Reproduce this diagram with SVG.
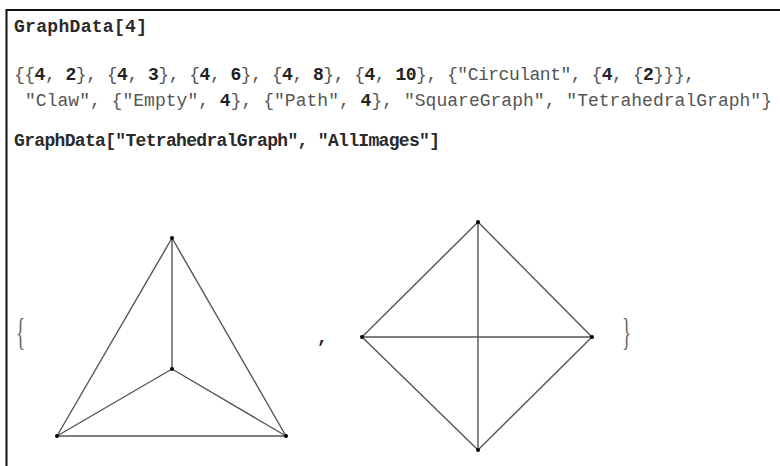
<svg xmlns="http://www.w3.org/2000/svg" width="780" height="466" viewBox="0 0 780 466">
<style>
.in{font-family:"Liberation Mono","DejaVu Sans Mono",monospace;font-size:18px;font-weight:bold;fill:#2a2a2a}
.out{font-family:"Liberation Mono","DejaVu Sans Mono",monospace;font-size:18px;fill:#555}
.out tspan.n{font-weight:bold;fill:#222}
.e{stroke:#555;stroke-width:1.4;fill:none}
.v{fill:#000}
.br{font-family:"Liberation Serif",serif;font-size:38px;fill:#666}
</style>
<rect width="780" height="466" fill="#fff"/>
<path d="M780 10H6.5V466" fill="none" stroke="#111" stroke-width="2"/>
<g id="text">
<text class="in" x="14" y="32" textLength="133" lengthAdjust="spacing">GraphData[4]</text>
<text class="out" x="14" y="80" textLength="681" lengthAdjust="spacing">{{<tspan class="n">4</tspan>, <tspan class="n">2</tspan>}, {<tspan class="n">4</tspan>, <tspan class="n">3</tspan>}, {<tspan class="n">4</tspan>, <tspan class="n">6</tspan>}, {<tspan class="n">4</tspan>, <tspan class="n">8</tspan>}, {<tspan class="n">4</tspan>, <tspan class="n">10</tspan>}, {"Circulant", {<tspan class="n">4</tspan>, {<tspan class="n">2</tspan>}}},</text>
<text class="out" x="25" y="106" textLength="747" lengthAdjust="spacing">"Claw", {"Empty", <tspan class="n">4</tspan>}, {"Path", <tspan class="n">4</tspan>}, "SquareGraph", "TetrahedralGraph"}</text>
<text class="in" x="14" y="146" textLength="426" lengthAdjust="spacing">GraphData["TetrahedralGraph", "AllImages"]</text>
<text class="br" x="16" y="345" transform="translate(16 0) scale(0.5 1) translate(-16 0)">{</text>
<text class="out" x="317" y="343" style="font-weight:bold;fill:#222">,</text>
<text class="br" x="622" y="345" transform="translate(622 0) scale(0.5 1) translate(-622 0)">}</text>
</g>
<g id="connectors">
<line class="e" x1="172" y1="238" x2="172" y2="369"/>
<line class="e" x1="172" y1="238" x2="57" y2="436"/>
<line class="e" x1="172" y1="238" x2="286" y2="436"/>
<line class="e" x1="172" y1="369" x2="57" y2="436"/>
<line class="e" x1="172" y1="369" x2="286" y2="436"/>
<line class="e" x1="57" y1="436" x2="286" y2="436"/>
<line class="e" x1="478" y1="222" x2="362" y2="337"/>
<line class="e" x1="478" y1="222" x2="592" y2="337"/>
<line class="e" x1="478" y1="222" x2="478" y2="450"/>
<line class="e" x1="362" y1="337" x2="592" y2="337"/>
<line class="e" x1="362" y1="337" x2="478" y2="450"/>
<line class="e" x1="592" y1="337" x2="478" y2="450"/>
</g>
<g id="t1"><circle class="v" cx="172" cy="238" r="2"/></g>
<g id="t2"><circle class="v" cx="172" cy="369" r="2"/></g>
<g id="t3"><circle class="v" cx="57" cy="436" r="2"/></g>
<g id="t4"><circle class="v" cx="286" cy="436" r="2"/></g>
<g id="d1"><circle class="v" cx="478" cy="222" r="2"/></g>
<g id="d2"><circle class="v" cx="362" cy="337" r="2"/></g>
<g id="d3"><circle class="v" cx="592" cy="337" r="2"/></g>
<g id="d4"><circle class="v" cx="478" cy="450" r="2"/></g>
</svg>
